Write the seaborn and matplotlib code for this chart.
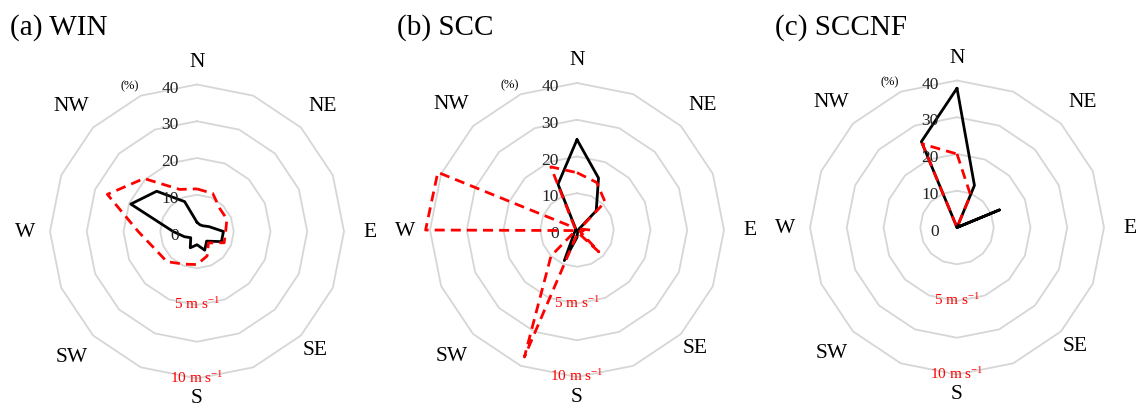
import numpy as np
import pandas as pd
import matplotlib
matplotlib.use("Agg")
import matplotlib.pyplot as plt
import seaborn as sns

# 16-point compass, clockwise from north
directions = ["N", "NNE", "NE", "ENE", "E", "ESE", "SE", "SSE",
              "S", "SSW", "SW", "WSW", "W", "WNW", "NW", "NNW"]
compass_labels = ["N", "NE", "E", "SE", "S", "SW", "W", "NW"]
panel_titles = ["(a) WIN", "(b) SCC", "(c) SCCNF"]

# wind direction frequency (%)
freq_win = [2.5, 2.0, 2.2, 3.5, 7.2, 7.2, 3.7, 5.5, 3.6, 4.8, 2.4, 3.7, 6.5, 19.5, 15.5, 8.8]
freq_scc = [24.6, 15.3, 7.4, 0.5, 0.5, 0.3, 0.3, 0.5, 2.0, 9.0, 1.0, 0.5, 0.3, 0.5, 0.5, 13.5]
freq_sccnf = [37.9, 12.4, 0.0, 12.5, 0.0, 0.0, 0.0, 0.0, 0.0, 0.0, 0.0, 0.0, 0.0, 0.0, 0.0, 25.3]

# mean wind speed per direction (m/s)
ws_win = [2.9, 2.8, 2.2, 2.2, 1.95, 2.0, 1.1, 1.8, 2.25, 2.4, 2.9, 3.1, 4.0, 6.6, 5.1, 3.1]
ws_scc = [3.9, 3.5, 2.7, 0.2, 0.9, 0.2, 2.1, 0.2, 0.3, 9.35, 2.5, 0.1, 10.3, 10.25, 0.2, 4.65]
ws_sccnf = [5.0, 2.4, 0.0, 0.0, 0.0, 0.0, 0.0, 0.0, 0.0, 0.0, 0.0, 0.0, 0.0, 0.0, 0.0, 6.15]

ring_levels = [10, 20, 30, 40]
tick_levels = [0, 10, 20, 30, 40]
speed_ticks = [5, 10]
SPEED_TO_PCT = 4.0   # 1 m/s is drawn as 4 units on the shared radial axis

freqs = [freq_win, freq_scc, freq_sccnf]
speeds = [ws_win, ws_scc, ws_sccnf]

sns.set_style("white")
plt.rcParams["font.family"] = ["Liberation Serif", "DejaVu Serif"]
plt.rcParams["mathtext.fontset"] = "custom"
plt.rcParams["mathtext.rm"] = "Liberation Serif"
plt.rcParams["mathtext.it"] = "Liberation Serif:italic"

W, H = 1138, 406
fig = plt.figure(figsize=(W / 100, H / 100), dpi=100)

RMAX = 48.0
px_per_unit = 147 / 40.0
half = RMAX * px_per_unit
centers = [(197, 232.5), (577, 231), (957, 228.5)]
title_x = [10, 397, 775]

theta = np.deg2rad(np.arange(16) * 22.5)
theta_closed = np.append(theta, theta[0])

label_r = {"N": 46.3, "NE": 48.3, "E": 47.0, "SE": 45.3,
           "S": 45.2, "SW": 48.2, "W": 46.8, "NW": 48.5}

for k in range(3):
    cx, cy = centers[k]
    rect = [(cx - half) / W, (H - cy - half) / H, 2 * half / W, 2 * half / H]
    ax = fig.add_axes(rect, projection="polar")
    ax.set_theta_zero_location("N")
    ax.set_theta_direction(-1)
    ax.set_ylim(0, RMAX)
    ax.grid(False)
    ax.set_xticks([])
    ax.set_yticks([])
    ax.spines["polar"].set_visible(False)
    ax.patch.set_alpha(0)

    # 16-sided grid rings
    for lvl in ring_levels:
        ax.plot(theta_closed, np.full(17, lvl), color="#d6d6d6", lw=1.3, zorder=1)

    df = pd.DataFrame({
        "theta": theta_closed,
        "freq": np.append(freqs[k], freqs[k][0]),
        "speed": np.append(speeds[k], speeds[k][0]) * SPEED_TO_PCT,
    })
    sns.lineplot(data=df, x="theta", y="freq", sort=False, estimator=None,
                 color="black", lw=2.0, ax=ax, zorder=3, clip_on=False)
    sns.lineplot(data=df, x="theta", y="speed", sort=False, estimator=None,
                 color="#ff0000", lw=2.0, ax=ax, zorder=4, clip_on=False,
                 linestyle=(0, (3.6, 2.2)))
    ax.set_xlabel("")
    ax.set_ylabel("")

    # compass labels
    for i, lab in enumerate(compass_labels):
        ax.text(np.deg2rad(i * 45), label_r[lab], lab, ha="center", va="center",
                fontsize=15.5, color="black")

    # radial tick labels for frequency
    for lvl in tick_levels:
        ax.annotate(str(lvl), xy=(0, lvl), xytext=(-13.3, -2.2),
                    textcoords="offset points", ha="right", va="center",
                    fontsize=12.5, color="#222222")
    ax.text(np.deg2rad(335.4), 43.7, "(%)", ha="center", va="center",
            fontsize=9, color="black")

    # wind speed scale labels
    for v in speed_ticks:
        ax.annotate(f"{v} m s$^{{-1}}$", xy=(np.pi, v * SPEED_TO_PCT),
                    xytext=(0, 1.2), textcoords="offset points",
                    ha="center", va="center", fontsize=11, color="#ff0000")

    fig.text(title_x[k] / W, (H - 28) / H, panel_titles[k], ha="left",
             va="center", fontsize=21, color="black")

fig.savefig("out.png", dpi=100, facecolor="white")
